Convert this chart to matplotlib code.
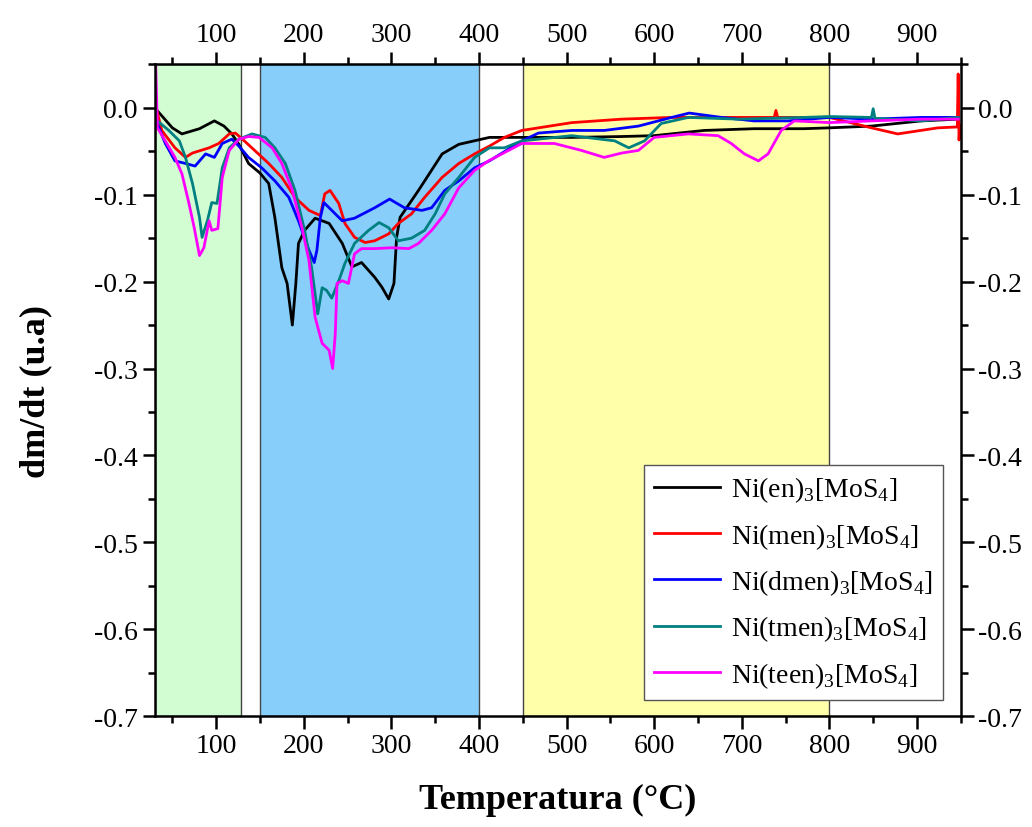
import matplotlib
matplotlib.use("Agg")
import matplotlib.pyplot as plt
from matplotlib.ticker import MultipleLocator, FormatStrFormatter

plt.rcParams["font.family"] = ["Liberation Serif", "DejaVu Serif"]
plt.rcParams["mathtext.fontset"] = "custom"
plt.rcParams["mathtext.rm"] = "Liberation Serif"
plt.rcParams["axes.unicode_minus"] = False

# temperature (C) and dm/dt (u.a.)
t_en = [30, 50, 61, 81, 98, 109, 118, 126, 137, 150, 160, 167, 175, 181, 187, 191, 194,
        201, 213, 229, 244, 255, 266, 281, 289, 297, 303, 306, 310, 331, 358, 377, 412,
        449, 506, 563, 600, 657, 714, 771, 800, 848, 905, 947]
y_en = [0.0, -0.023, -0.030, -0.024, -0.015, -0.021, -0.030, -0.042, -0.064, -0.075,
        -0.087, -0.126, -0.184, -0.202, -0.250, -0.202, -0.156, -0.141, -0.127, -0.133,
        -0.156, -0.183, -0.178, -0.195, -0.206, -0.220, -0.202, -0.149, -0.126, -0.095,
        -0.053, -0.042, -0.034, -0.034, -0.034, -0.033, -0.032, -0.026, -0.024, -0.024,
        -0.023, -0.021, -0.015, -0.013]

t_men = [30, 38, 53, 65, 73, 92, 103, 115, 122, 130, 144, 160, 175, 190, 206, 219, 224,
         230, 240, 247, 258, 270, 281, 297, 308, 323, 338, 358, 377, 395, 412, 429, 449,
         506, 563, 620, 696, 737, 739, 741, 800, 848, 878, 924, 946, 947, 948, 949]
y_men = [0.006, -0.026, -0.046, -0.057, -0.052, -0.046, -0.041, -0.030, -0.029, -0.036,
         -0.049, -0.064, -0.080, -0.103, -0.118, -0.124, -0.099, -0.095, -0.110, -0.133,
         -0.149, -0.155, -0.153, -0.145, -0.133, -0.122, -0.103, -0.080, -0.064, -0.053,
         -0.044, -0.034, -0.026, -0.017, -0.013, -0.011, -0.011, -0.011, -0.003, -0.011,
         -0.011, -0.023, -0.030, -0.023, -0.022, 0.039, -0.037, -0.020]

t_dmen = [30, 42, 53, 65, 76, 88, 98, 107, 118, 126, 137, 152, 167, 183, 194, 206, 212,
          215, 219, 223, 232, 244, 258, 281, 298, 315, 335, 346, 361, 377, 395, 412, 449,
          468, 506, 543, 582, 620, 640, 677, 714, 753, 800, 848, 905, 947]
y_dmen = [-0.011, -0.041, -0.061, -0.064, -0.067, -0.053, -0.057, -0.041, -0.036, -0.044,
          -0.057, -0.069, -0.084, -0.103, -0.130, -0.164, -0.178, -0.164, -0.126, -0.109,
          -0.118, -0.130, -0.127, -0.115, -0.105, -0.115, -0.118, -0.115, -0.095, -0.084,
          -0.069, -0.061, -0.038, -0.029, -0.026, -0.026, -0.021, -0.011, -0.006, -0.011,
          -0.015, -0.015, -0.011, -0.013, -0.011, -0.011]

t_tmen = [33, 46, 58, 65, 73, 81, 84, 90, 95, 101, 107, 115, 126, 141, 156, 167, 179, 190,
          201, 209, 216, 221, 226, 232, 240, 247, 258, 274, 286, 297, 308, 323, 338, 350,
          361, 377, 395, 412, 429, 449, 506, 555, 571, 589, 608, 639, 696, 771, 800, 848,
          850, 852, 905, 947]
y_tmen = [-0.015, -0.026, -0.038, -0.057, -0.087, -0.126, -0.149, -0.130, -0.109, -0.110,
          -0.069, -0.046, -0.036, -0.030, -0.034, -0.046, -0.064, -0.095, -0.141, -0.184,
          -0.237, -0.207, -0.210, -0.219, -0.199, -0.179, -0.156, -0.141, -0.132, -0.138,
          -0.153, -0.150, -0.141, -0.122, -0.099, -0.080, -0.057, -0.046, -0.046, -0.038,
          -0.032, -0.038, -0.046, -0.038, -0.018, -0.011, -0.013, -0.011, -0.010, -0.011,
          -0.001, -0.012, -0.015, -0.011]

t_teen = [31, 33, 42, 53, 61, 69, 75, 81, 86, 92, 95, 102, 107, 115, 126, 137, 149, 164,
          175, 187, 198, 206, 213, 221, 229, 233, 236, 238, 244, 251, 258, 266, 281, 301,
          320, 331, 346, 361, 377, 395, 411, 449, 486, 517, 543, 563, 582, 600, 639, 673,
          688, 703, 719, 730, 745, 760, 800, 848, 905, 947]
y_teen = [0.050, -0.023, -0.038, -0.057, -0.076, -0.110, -0.138, -0.170, -0.161, -0.130,
          -0.141, -0.139, -0.080, -0.049, -0.036, -0.033, -0.034, -0.046, -0.064, -0.095,
          -0.138, -0.176, -0.241, -0.271, -0.279, -0.300, -0.260, -0.202, -0.199, -0.202,
          -0.168, -0.162, -0.162, -0.161, -0.162, -0.156, -0.141, -0.122, -0.092, -0.072,
          -0.061, -0.041, -0.041, -0.049, -0.057, -0.052, -0.049, -0.034, -0.030, -0.032,
          -0.041, -0.053, -0.061, -0.053, -0.026, -0.015, -0.017, -0.015, -0.013, -0.013]

labels = [r"Ni(en)$_3$[MoS$_4$]", r"Ni(men)$_3$[MoS$_4$]", r"Ni(dmen)$_3$[MoS$_4$]",
          r"Ni(tmen)$_3$[MoS$_4$]", r"Ni(teen)$_3$[MoS$_4$]"]
colors = ["black", "#ff0000", "#0000ff", "#008080", "#ff00ff"]

# temperature ranges of the decomposition steps
regions = [(30, 128, "#d2fcd2"), (150, 400, "#87cefa"), (450, 800, "#ffffaa")]

fig = plt.figure(figsize=(10.32, 8.28), dpi=100)
ax = fig.add_axes([0.150, 0.134, 0.781, 0.787])

for x0, x1, c in regions:
    ax.axvspan(x0, x1, color=c, ec="#444444", lw=1.0, zorder=0)

series = [(t_en, y_en), (t_men, y_men), (t_dmen, y_dmen), (t_tmen, y_tmen), (t_teen, y_teen)]
for (t, y), lab, c in zip(series, labels, colors):
    ax.plot(t, y, color=c, lw=2.0, label=lab)

ax.set_xlim(30, 950)
ax.set_ylim(-0.7, 0.05)
ax.xaxis.set_major_locator(MultipleLocator(100))
ax.xaxis.set_minor_locator(MultipleLocator(50))
ax.yaxis.set_major_locator(MultipleLocator(0.1))
ax.yaxis.set_minor_locator(MultipleLocator(0.05))
ax.yaxis.set_major_formatter(FormatStrFormatter("%.1f"))
ax.set_xticks([100, 200, 300, 400, 500, 600, 700, 800, 900])

ax.tick_params(which="both", direction="out", top=True, right=True,
               labeltop=True, labelright=True, width=1.8, labelsize=20)
ax.tick_params(which="major", length=9)
ax.tick_params(which="minor", length=5)
for sp in ax.spines.values():
    sp.set_linewidth(1.8)

ax.set_xlabel("Temperatura (\u00b0C)", fontsize=26, fontweight="bold", labelpad=18)
ax.set_ylabel("dm/dt (u.a)", fontsize=26, fontweight="bold", labelpad=30)

leg = ax.legend(loc="lower right", bbox_to_anchor=(0.995, 0.004), fontsize=20,
                frameon=True, fancybox=False, edgecolor="#555555", framealpha=1,
                handlelength=2.4, borderpad=0.35, labelspacing=0.6, handletextpad=0.4)
leg.get_frame().set_linewidth(1.0)

fig.savefig("out.png", dpi=100)
